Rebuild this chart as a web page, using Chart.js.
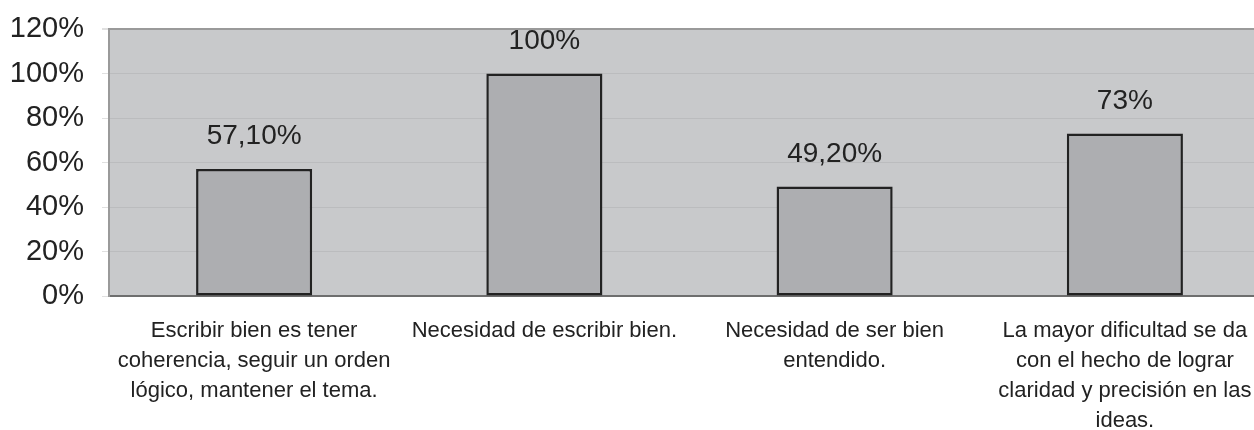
<!DOCTYPE html>
<html>
<head>
<meta charset="utf-8">
<script src="https://cdn.jsdelivr.net/npm/chart.js@4/dist/chart.umd.min.js"></script>
<style>
  html, body { margin: 0; padding: 0; background: #fff; overflow: hidden; }
  #wrap { width: 1270px; height: 430px; }
</style>
</head>
<body>
<div id="wrap"><canvas id="grafico"></canvas></div>
<script>
// datos
var categorias = [
    ["Escribir bien es tener", "coherencia, seguir un orden", "lógico, mantener el tema."],
    ["Necesidad de escribir bien."],
    ["Necesidad de ser bien", "entendido."],
    ["La mayor dificultad se da", "con el hecho de lograr", "claridad y precisión en las", "ideas."]
];
var valores = [57.1, 100, 49.2, 73];
var etiquetas = ["57,10%", "100%", "49,20%", "73%"];
var ticksY = [0, 20, 40, 60, 80, 100, 120];

var fuente = "'Liberation Sans', Arial, sans-serif";

// fondo gris del area de trazado
const fondoArea = {
    id: 'fondoArea',
    beforeDraw(chart) {
        const a = chart.chartArea, ctx = chart.ctx;
        ctx.save();
        ctx.fillStyle = '#c8c9cb';
        ctx.fillRect(a.left, a.top, a.right - a.left, a.bottom - a.top);
        ctx.restore();
    }
};

// etiquetas de valor encima de cada barra
const etiquetasValor = {
    id: 'etiquetasValor',
    afterDatasetsDraw(chart) {
        const ctx = chart.ctx;
        const meta = chart.getDatasetMeta(0);
        ctx.save();
        ctx.fillStyle = '#222';
        ctx.font = '28px ' + fuente;
        ctx.textAlign = 'center';
        ctx.textBaseline = 'alphabetic';
        meta.data.forEach(function (barra, i) {
            ctx.fillText(etiquetas[i], barra.x, barra.y - 25);
        });
        ctx.restore();
    }
};

new Chart(document.getElementById('grafico'), {
    type: 'bar',
    data: {
        labels: categorias,
        datasets: [{
            data: valores,
            backgroundColor: '#adaeb1',
            borderColor: '#222',
            borderWidth: 2.5,
            borderSkipped: false,
            barPercentage: 0.4,
            categoryPercentage: 1
        }]
    },
    options: {
        responsive: true,
        maintainAspectRatio: false,
        animation: false,
        layout: { padding: { top: 29, right: 0, left: 0, bottom: 0 } },
        plugins: {
            legend: { display: false },
            tooltip: { enabled: false }
        },
        scales: {
            x: {
                grid: { display: false, drawTicks: false },
                border: { display: true, color: '#6e6e6e', width: 2 },
                ticks: {
                    color: '#222',
                    font: { family: fuente, size: 22, lineHeight: 1.36 },
                    padding: 20,
                    maxRotation: 0,
                    autoSkip: false
                },
                afterFit: function (s) { s.height = 134; s.paddingLeft = 0; s.paddingRight = 0; }
            },
            y: {
                min: 0,
                max: 120,
                afterBuildTicks: function (s) {
                    s.ticks = ticksY.map(function (v) { return { value: v }; });
                },
                grid: {
                    color: function (c) { return c.tick && c.tick.value === 120 ? '#9a9a9a' : '#bbbcbe'; },
                    lineWidth: function (c) { return c.tick && c.tick.value === 120 ? 2 : 1; },
                    tickLength: 7,
                    tickColor: '#e0e0e0'
                },
                border: { display: true, color: '#9a9a9a', width: 2 },
                ticks: {
                    color: '#222',
                    font: { family: fuente, size: 29 },
                    padding: 18,
                    callback: function (v) { return v + '%'; }
                },
                afterFit: function (s) { s.width = 109; s.paddingTop = 0; s.paddingBottom = 0; }
            }
        }
    },
    plugins: [fondoArea, etiquetasValor]
});
</script>
</body>
</html>
